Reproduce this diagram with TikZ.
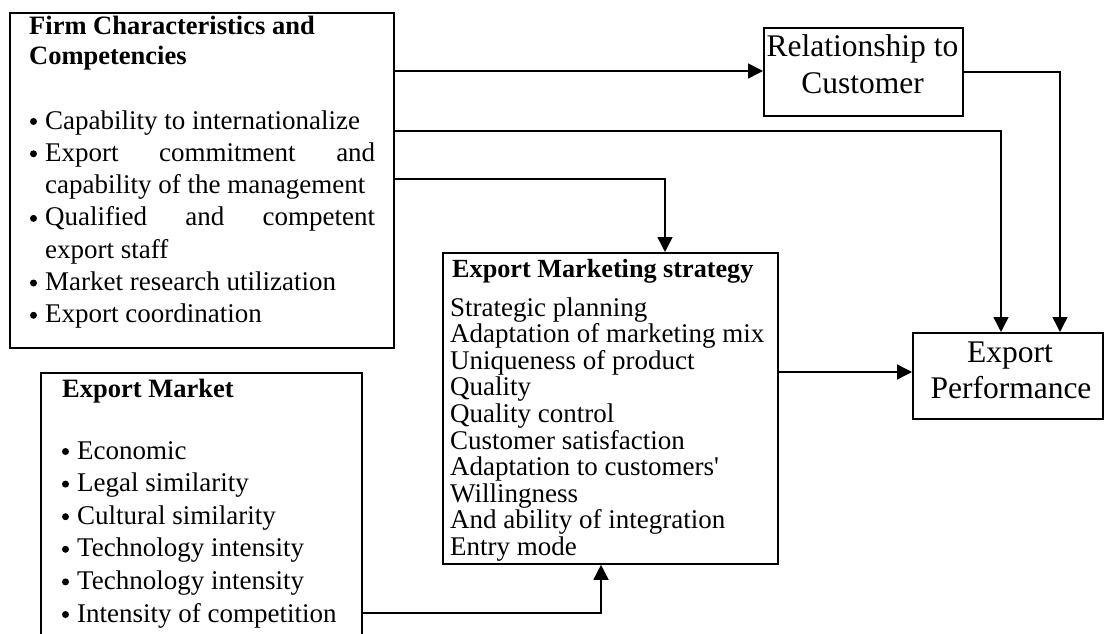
\documentclass[tikz,border=0pt]{standalone}
\usepackage{fontspec}
\setmainfont{Liberation Serif}[Ligatures=TeXOff]
\usetikzlibrary{arrows.meta}
\begin{document}
\begin{tikzpicture}[x=1pt,y=-1pt,
  box/.style={draw, line width=1.8pt, rectangle, inner sep=0pt, anchor=north west},
  link/.style={line width=1.5pt, -{Triangle[length=15pt,width=15pt]}},
  body/.style={anchor=base west, inner sep=0pt, font=\fontsize{27}{32}\selectfont},
  head/.style={anchor=base west, inner sep=0pt, font=\fontsize{26.5}{30}\selectfont\bfseries},
  big/.style={anchor=base, inner sep=0pt, font=\fontsize{31.5}{36}\selectfont},
  bulletdot/.style={circle, fill, draw=none, inner sep=0pt, minimum size=7pt}
]
\useasboundingbox (0,0) rectangle (1104,634);
\clip (0,0) rectangle (1104,634);

% boxes
\node[box, minimum width=384pt, minimum height=335pt] (firm) at (9,12) {};
\node[box, minimum width=199pt, minimum height=88pt] (rel) at (763,27) {};
\node[box, minimum width=335pt, minimum height=311pt] (mkt) at (442,252) {};
\node[box, minimum width=190pt, minimum height=86pt] (ep) at (912,332) {};
\node[box, minimum width=321pt, minimum height=320pt] (em) at (40,372) {};

% firm characteristics
\node[head] (firm-h1) at (29,35) {Firm Characteristics and};
\node[head] (firm-h2) at (29,65) {Competencies};
\foreach \k/\t in {0/Capability to internationalize,
                   1/{\hbox to 330pt{Export\hfill commitment\hfill and}},
                   2/capability of the management,
                   3/{\hbox to 330pt{Qualified\hfill and\hfill competent}},
                   4/export staff,
                   5/Market research utilization,
                   6/Export coordination}
  \node[body] (firm-t\k) at (45,129+32.3*\k) {\t};
\foreach \k in {0,1,3,5,6}
  \node[bulletdot] (firm-b\k) at (33.5,121.5+32.3*\k) {};

% relationship to customer
\node[big] (rel-t1) at (862.5,57) {Relationship to};
\node[big] (rel-t2) at (862.5,93) {Customer};

% export performance
\node[big] (ep-t1) at (1010,362) {Export};
\node[big] (ep-t2) at (1011,398) {Performance};

% export marketing strategy
\node[head, font=\fontsize{26.2}{30}\selectfont\bfseries] (mkt-h) at (452,277) {Export Marketing strategy};
\foreach \k/\t in {0/Strategic planning,
                   1/Adaptation of marketing mix,
                   2/Uniqueness of product,
                   3/Quality,
                   4/Quality control,
                   5/Customer satisfaction,
                   6/Adaptation to customers',
                   7/Willingness,
                   8/And ability of integration,
                   9/Entry mode}
  \node[body] (mkt-t\k) at (450,316+26.6*\k) {\t};

% export market
\node[head] (em-h) at (62,397) {Export Market};
\foreach \k/\t in {0/Economic,
                   1/Legal similarity,
                   2/Cultural similarity,
                   3/Technology intensity,
                   4/Technology intensity,
                   5/Intensity of competition}
  {\node[body] (em-t\k) at (77,459+32.6*\k) {\t};
   \node[bulletdot] (em-b\k) at (65.5,451.5+32.6*\k) {};}

% connectors
\coordinate (j1) at (0,71);
\coordinate (j2) at (1001,131);
\coordinate (j3) at (665,179);
\coordinate (j4) at (1060,72);
\coordinate (j5) at (0,372);
\coordinate (j6) at (601,613);

\draw[link] (firm.east |- j1) -- (rel.west |- j1);
\draw[link] (firm.east |- j2) -| (ep.north -| j2);
\draw[link] (firm.east |- j3) -| (mkt.north -| j3);
\draw[link] (rel.east |- j4) -| (ep.north -| j4);
\draw[link] (mkt.east |- j5) -- (ep.west |- j5);
\draw[link] (em.east |- j6) -| (mkt.south -| j6);
\end{tikzpicture}
\end{document}
